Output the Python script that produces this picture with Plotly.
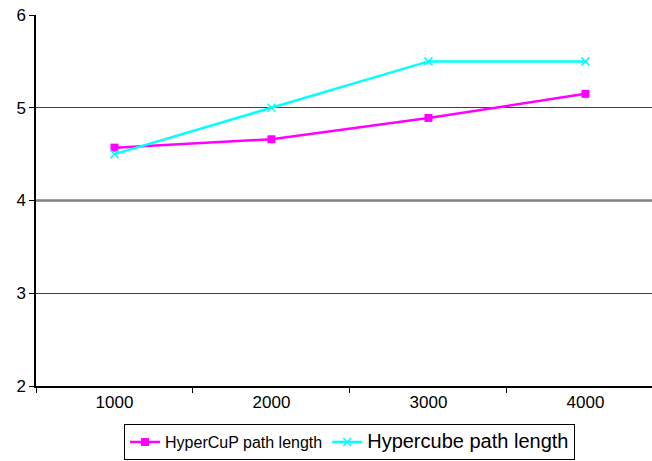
import plotly.graph_objects as go

# Network sizes on the x axis
network_sizes = [1000, 2000, 3000, 4000]
tick_labels = ["1000", "2000", "3000", "4000"]

# Average path length per topology
hypercup_path = [4.57, 4.66, 4.89, 5.15]
hypercube_path = [4.5, 5.0, 5.5, 5.5]

fig = go.Figure()

fig.add_trace(go.Scatter(
    x=network_sizes, y=hypercup_path, mode="lines+markers",
    name="<span style='font-size:16px'>HyperCuP path length</span>",
    line=dict(color="#FF00FF", width=2.5),
    marker=dict(symbol="square", size=8, color="#FF00FF"),
))
fig.add_trace(go.Scatter(
    x=network_sizes, y=hypercube_path, mode="lines+markers",
    name="<span style='font-size:20px'>Hypercube path length</span>",
    line=dict(color="#00FFFF", width=2.5),
    marker=dict(symbol="x-thin-open", size=8, color="#00FFFF",
                line=dict(color="#00FFFF", width=1.5)),
))

# emphasised gridline at 4
fig.add_shape(type="line", xref="paper", yref="y", x0=0, x1=1, y0=4, y1=4,
              line=dict(color="#808080", width=2.5), layer="above")

fig.update_layout(
    width=652, height=461,
    margin=dict(l=36, r=0, t=15, b=75),
    plot_bgcolor="white", paper_bgcolor="white",
    font=dict(family="Arial, Liberation Sans, sans-serif", size=17, color="black"),
    showlegend=True,
    legend=dict(
        orientation="h", xref="paper", x=0.509, xanchor="center",
        yref="container", y=0.002, yanchor="bottom",
        bordercolor="black", borderwidth=1, bgcolor="white",
        itemwidth=30, tracegroupgap=0,
        font=dict(size=16),
    ),
)

fig.update_xaxes(
    range=[500, 4424], tickvals=network_sizes, ticktext=tick_labels,
    ticks="", showgrid=False, showline=True, linecolor="black", linewidth=1.5,
    zeroline=False,
    minor=dict(tickmode="array", tickvals=[500, 1500, 2500, 3500],
               ticks="outside", ticklen=5, tickcolor="black", tickwidth=1),
    tickfont=dict(size=17),
)
fig.update_yaxes(
    range=[2, 6], dtick=1, ticks="outside", ticklen=5, tickcolor="black",
    showgrid=True, gridcolor="#404040", gridwidth=1,
    showline=True, linecolor="black", linewidth=1.5, zeroline=False,
    tickfont=dict(size=17),
)

fig.write_html("out.html")
